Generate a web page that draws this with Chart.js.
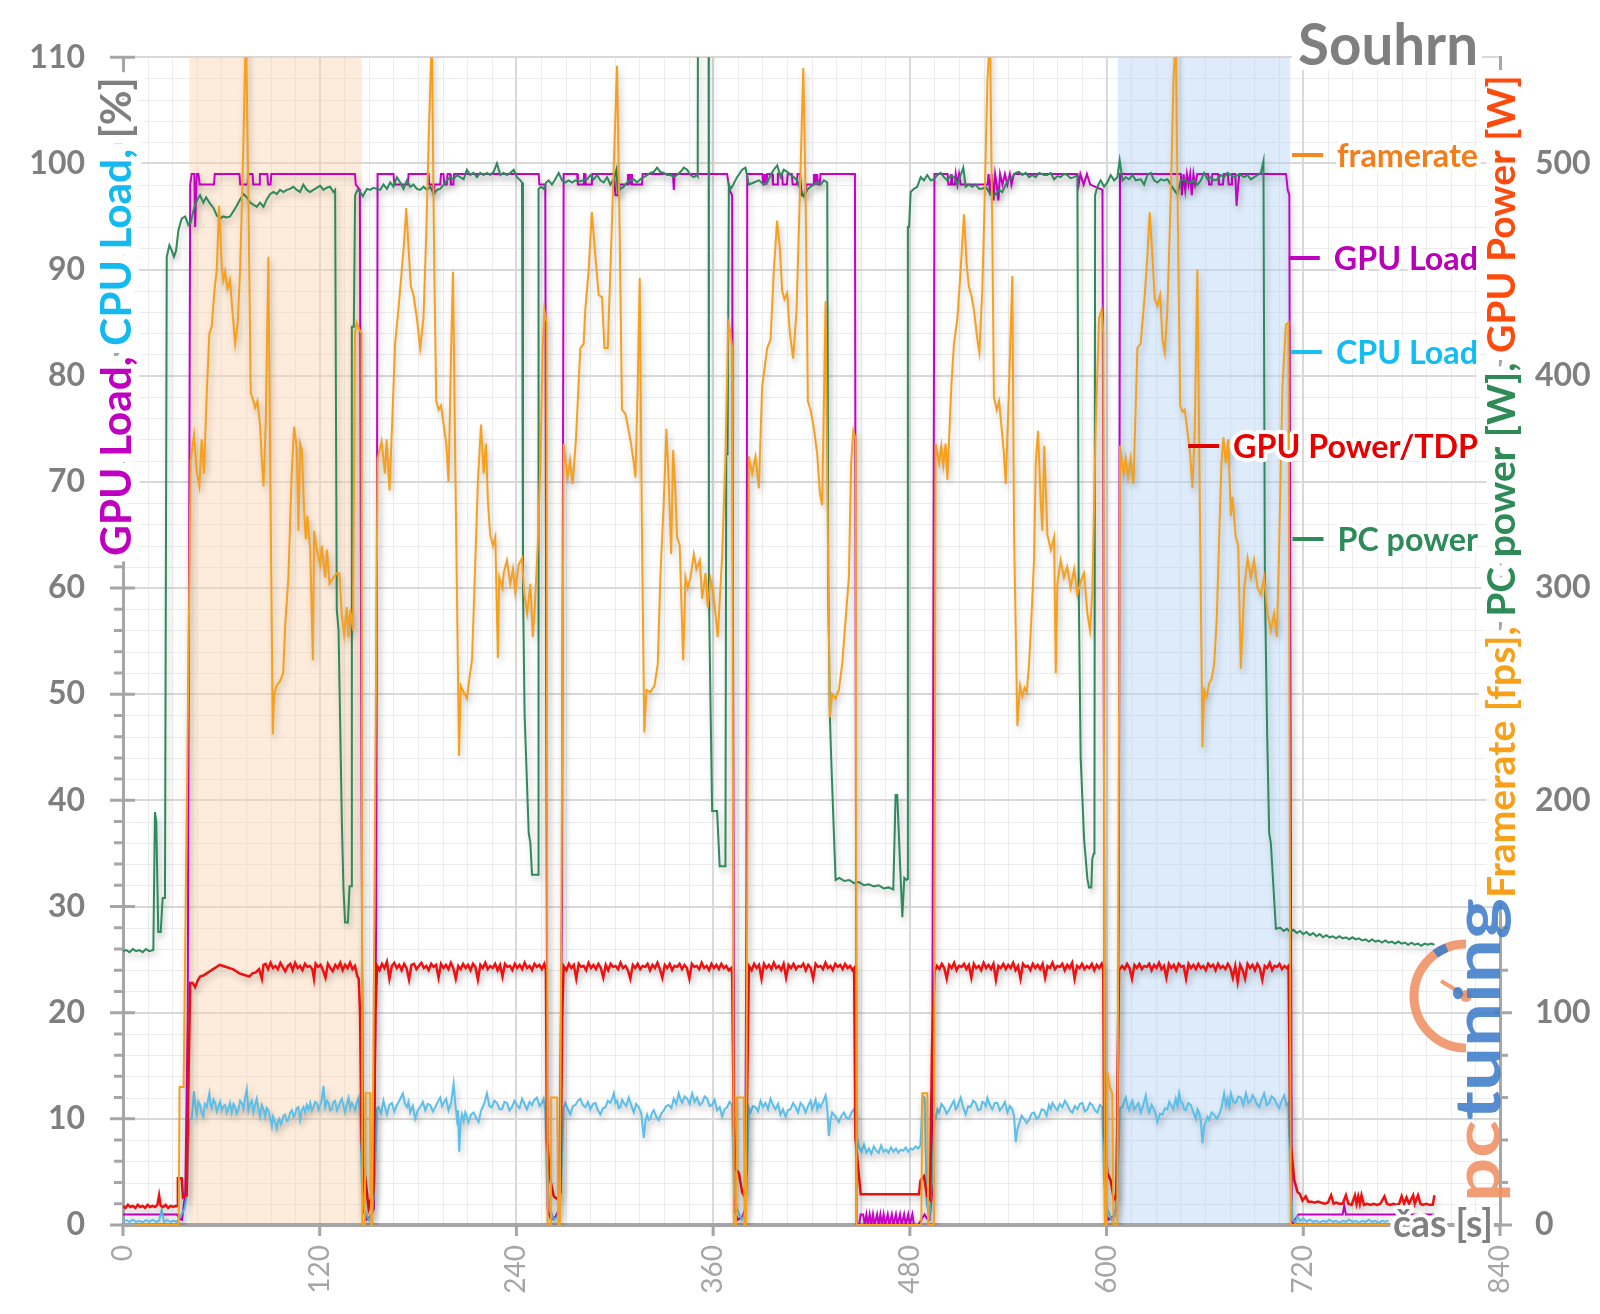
<!DOCTYPE html>
<html><head><meta charset="utf-8">
<script src="https://cdn.jsdelivr.net/npm/chart.js@4.4.1/dist/chart.umd.min.js"></script>
<style>html,body{margin:0;padding:0;background:#fff;}#wrap{width:1600px;height:1314px;}canvas{display:block;}</style>
</head><body><div id="wrap"><canvas id="c" width="1600" height="1314"></canvas></div>
<script>
// ---------------- DATA (time [s], value) ----------------
const xTickValues = [0,120,240,360,480,600,720,840];
const highlightRanges = [[40.5,145.7],[607,712]];
const legendLabels = ['framerate','GPU Load','CPU Load','GPU Power/TDP','PC power'];

// framerate [fps] (right axis)
const framerate = [
[0,0],[34,0],[34.5,65],[37,65],[41.3,360],[43.3,372],[45,355],[46.6,348],[48,370],[49.4,354],[51,390],[52.7,420],[54.1,423],[55.8,440],[57.2,450],[58.6,480],[60.2,452],[61.2,445],[62.3,449],[63.7,441],[65.3,445],[66.8,430],[68.4,415],[70,425],[71.4,449],[72.5,480],[73.5,512],[75,565],[76.5,485],[77.9,392],[79.6,388],[80.6,385],[82,388],[83.6,377],[84.7,360],[85.7,348],[87.1,378],[88.7,456],[90.1,332],[91.4,231],[92.2,250],[93.7,254],[95.7,256],[97.7,260],[99,283],[100.9,305],[102.9,354],[104.4,376],[106,366],[107,327],[108,368],[109.1,365],[110.5,336],[111.5,323],[112.5,334],[114.2,318],[115.8,266],[116.6,327],[118.2,318],[120.3,311],[121.3,320],[123.3,305],[124.4,318],[126,302],[128.4,305],[130.4,307],[132,307],[133.5,287],[134.9,278],[136.5,291],[137.6,277],[138.6,290],[140.3,280],[141.5,420],[142.5,425],[144,422],[145.5,420],[146,0],[147.5,0],[148,62],[150.8,62],[151.5,0],[152,0],[155.3,361],
[157.7,369],[159.8,354],[160.8,370],[162.6,346],[164,374],[166,415],[168,431],[170,449],[171.5,463],[172.8,479],[174.2,460],[175.6,442],[177.2,438],[179.3,427],[181.3,413],[183.3,427],[185,467],[186.6,515],[188.4,560],[189.9,449],[191.1,388],[192.5,384],[194,386],[195.6,377],[197.2,368],[198.6,350],[200.2,413],[201.3,449],[202.7,359],[205,221],[206,254],[207.8,251],[209.8,248],[211.2,257],[212.9,266],[214.3,298],[216.5,350],[218.4,377],[220,354],[221.4,368],[222.6,341],[224,325],[225.7,320],[227.1,324],[228.7,267],[229.5,305],[231.5,300],[232.2,307],[234.2,313],[236.3,302],[237.9,309],[239.3,298],[241.4,311],[243.4,314],[244.8,297],[246.5,288],[248.5,302],[250,277],[251.2,291],[253,320],[254.6,359],[256,413],[257,431],[258.4,425],[259,0],[260.5,0],[261,60],[264.8,60],[265.5,0],[266.5,0],[268.8,368],
[271.2,352],[272.7,360],[274.3,349],[276.3,370],[279,413],[281,415],[282,431],[284,449],[286,477],[288.2,456],[290.2,438],[292.2,437],[293.7,413],[295.7,413],[297.3,449],[299.3,497],[301.4,546],[303,467],[304.4,384],[306.5,382],[308.5,374],[309.9,368],[311.6,359],[312.6,352],[314,395],[315.2,446],[316.6,324],[318,232],[319.3,252],[321.7,251],[324.2,254],[326.2,264],[327.8,305],[329.9,341],[331.5,375],[332.9,350],[334.4,316],[335.6,365],[337,345],[338,324],[339.6,320],[341.7,266],[343.1,305],[344.5,300],[346.2,305],[348.2,316],[349.8,309],[351.9,313],[353.3,295],[355.3,307],[356.7,291],[358.4,304],[360,298],[361.4,288],[362.8,277],[365.5,315],[367.5,361],[369.2,425],[370.6,420],[371.6,413],[372.6,0],[374,0],[374.6,60],[378.7,60],[379.2,0],[380,0],[381.8,362],
[383.8,354],[385.8,362],[387.9,347],[389.9,395],[393,413],[395,417],[397,449],[399,473],[400.7,460],[402.1,440],[403.5,436],[405.2,439],[406.8,420],[408.8,408],[410.9,431],[412.9,485],[415,545],[416.4,485],[417.8,388],[419.4,384],[421.5,375],[423.5,363],[425.1,345],[426.5,339],[428.6,435],[430,324],[431.2,239],[432.6,250],[434.7,248],[436.7,252],[438.7,264],[440.8,285],[442.8,305],[444.2,359],[445.5,374],[447,370],[447.5,0],[487,0],[487.6,62],[490.6,62],[491.2,0],[494.7,0],[495.7,368],
[497.8,359],[499.2,367],[500.4,358],[501.8,368],[502.9,351],[505.3,395],[506.9,415],[509,427],[510.6,445],[513,476],[514.6,453],[516,442],[517.5,438],[519.1,431],[521.2,417],[522.4,411],[524.2,440],[525.7,485],[527.3,539],[528.9,560],[530.3,467],[531.3,390],[533,384],[534.4,388],[535.8,377],[537.4,363],[538.5,349],[540.5,395],[542.5,447],[543.6,324],[545.6,235],[547.2,254],[548.6,249],[550,253],[551.3,251],[552.7,264],[554.1,285],[555.8,314],[556.8,359],[558.2,374],[559.8,341],[560.8,327],[562,367],[563.9,325],[566,318],[568,324],[569,260],[570,302],[572,313],[574,305],[576,310],[578.1,300],[580.2,309],[582.2,297],[584.2,303],[586.3,307],[588.3,288],[589.9,280],[591.3,298],[593.4,377],[595.4,427],[597,431],[598,420],[598.9,0],[600,0],[600.5,72],[602,65],[603.5,62],[604.2,0],[606.5,0],[608.2,367],
[610.3,354],[611.7,361],[613.1,352],[614.7,361],[616.4,349],[618.8,413],[620.8,415],[623.3,438],[624.9,456],[626.3,477],[628,456],[629.4,436],[631,433],[632.7,438],[634.1,417],[635.5,411],[637.1,431],[639.2,485],[640.8,539],[642.2,560],[643.6,467],[644.9,386],[646.3,383],[647.7,384],[649.3,374],[651,363],[652.4,347],[653.8,375],[655.4,450],[657.1,324],[658.5,225],[659.5,252],[661.1,249],[662.6,255],[664,257],[665.6,264],[667.2,285],[668.7,324],[670.1,359],[671.3,371],[672.7,359],[674.2,370],[675.8,334],[676.8,343],[678.8,324],[680.3,320],[681.9,262],[684,300],[686,314],[688,305],[690,313],[692.1,300],[694.1,297],[696.1,305],[698.2,288],[700.2,280],[702.2,288],[703.9,277],[705.3,320],[707.3,395],[709.4,424],[711,425],[712.4,0],[772,0]
];

// GPU power [W] (right axis)
const gpuPower = [
[0,9],[1.5,8],[3,9.5],[4.5,8.5],[6,9],[7.5,8],[9,9.5],[10.5,8.5],[12,9],[13.5,8],[15,9.5],[16.5,8.5],[18,9],[19.5,8.5],[21,9.5],[22,14],[23,9],[24.5,8.5],[26,9.5],[27.5,8],[29,9],[30.5,8.5],[32,9],[33,9],[33.5,22],[35.8,22],[36.6,13],[38.9,14],[40,70],[41,114],
[42.5,114],[44,112],[45.5,115],[47,117],[49,117.5],[51,118.5],[53,119.5],[55,120.5],[57,121.5],[59,122.5],[61,122],[63,121.5],[65,121],[67,120.5],[69,119.5],[71,118.5],[73,118],[75,117.5],[77,117],[79,118.5],[81,119],[83,120.5],[84.7,116],[85.7,122.5],[87,123],[88.5,120.5],[90,123.5],[91.5,121],[93,122],[94.5,120.5],[96,123.5],[97.5,121.5],[99,119.5],[100.5,122],[102,123],[103.5,120],[105,123.5],[106.5,121],[108,122],[109.5,120],[111,123],[112.5,121.5],[114,122],[115.5,120.5],[116.5,116],[117.5,123],[119,121.5],[120.5,122.5],[122,120],[123.5,116.5],[125,123],[126.5,121],[128,119.5],[129.5,122.5],[131,121],[132.5,123.5],[134,120],[135.5,122.5],[137,121],[138.5,123.5],[140,120.5],[141.5,122],[143,117],[143.8,116],[144.6,100],[145.5,40],[146.3,28.5],[147.7,23],[149.8,8],[151.2,12],[152.8,15.5],[154,100],[155,122],
[156.5,120],[158,123],[159.5,121],[161,124],[162.5,116],[164,122],[165.5,123.5],[167,121],[168.5,122.5],[170,120],[171.5,123],[173,121],[174.5,115.5],[176,122.5],[177.5,123],[179,120.5],[180.5,122],[182,123.5],[183.5,121],[185,122],[186.5,120],[188,123],[189.5,121.5],[191,122.5],[192.5,116.5],[194,123],[195.5,121],[197,122.5],[198.5,120.5],[200,123.5],[201.5,121],[203,116],[204.5,122],[206,120.5],[207.5,123],[209,121],[210.5,122.5],[212,120],[213.5,123],[215,121.5],[216.5,115.5],[218,122.5],[219.5,121],[221,123.5],[222.5,120.5],[224,122],[225.5,121],[227,123],[228.5,120],[230,122.5],[231.5,117],[233,123],[234.5,121.5],[236,122],[237.5,120],[239,123],[240.5,121],[242,122.5],[243.5,120.5],[245,123.5],[246.5,121],[248,122],[249.5,120],[251,123],[252.5,121.5],[254,122.5],[255.5,120.5],[257,123],[258,120],[258.6,40],[260.7,21],[262.8,13.5],[265.2,12],[266.8,15.5],[268,100],[268.8,122],
[270.5,120],[272,123],[273.5,121],[275,122.5],[276.5,116],[278,123],[279.5,121.5],[281,122],[282.5,120],[284,123.5],[285.5,121],[287,122.5],[288.5,120.5],[290,123],[291.5,121],[293,116.5],[294.5,122.5],[296,120],[297.5,123],[299,121.5],[300.5,122],[302,120.5],[303.5,123.5],[305,121],[306.5,122],[308,120],[309.5,116],[311,122.5],[312.5,121],[314,123],[315.5,120.5],[317,122],[318.5,121.5],[320,123],[321.5,120],[323,122.5],[324.5,121],[326,123.5],[327.5,120.5],[329,116.5],[330.5,122.5],[332,121],[333.5,123],[335,120],[336.5,122],[338,121.5],[339.5,123],[341,120.5],[342.5,122.5],[344,121],[345.5,116],[347,123],[348.5,121.5],[350,122],[351.5,120.5],[353,123.5],[354.5,121],[356,122],[357.5,120],[359,123],[360.5,121],[362,122.5],[363.5,120.5],[365,123],[366.5,121],[368,122],[369.5,120],[371,121],[371.6,118],[372.6,46.5],[373.6,26.5],[375.7,24.5],[377.7,15.5],[379.1,13.5],[380.1,24.5],[381.8,122],
[383.5,120],[385,123],[386.5,121],[388,122.5],[389.5,116],[391,123],[392.5,121],[394,122.5],[395.5,120.5],[397,123.5],[398.5,121],[400,122],[401.5,120],[403,123],[404.5,116.5],[406,122.5],[407.5,121],[409,123],[410.5,120.5],[412,122],[413.5,121.5],[415,123],[416.5,120],[418,122.5],[419.5,121],[421,116],[422.5,123],[424,121.5],[425.5,122],[427,120.5],[428.5,123.5],[430,121],[431.5,122],[433,120],[434.5,123],[436,121.5],[437.5,122.5],[439,120.5],[440.5,123],[442,121],[443.5,122],[445,120],[446,121],[446.8,41],[450,14.5],[485.6,14.5],[486.5,21],[488.6,23],[490.5,13.5],[492.3,12],[493.5,83],[495.1,119.5],
[496.5,122],[498,120.5],[499.5,123],[501,121],[502.5,116],[504,122.5],[505.5,121],[507,123.5],[508.5,120],[510,122],[511.5,121.5],[513,123],[514.5,120.5],[516,122.5],[517.5,116.5],[519,123],[520.5,121],[522,122],[523.5,120],[525,123.5],[526.5,121],[528,122.5],[529.5,120.5],[531,123],[532.5,115.5],[534,122],[535.5,121],[537,123],[538.5,120.5],[540,122.5],[541.5,121],[543,123.5],[544.5,120],[546,122],[547.5,116],[549,123],[550.5,121.5],[552,122],[553.5,120],[555,123],[556.5,121],[558,122.5],[559.5,120.5],[561,123],[562.5,116.5],[564,122],[565.5,121],[567,123.5],[568.5,120.5],[570,122],[571.5,121.5],[573,123],[574.5,120],[576,122.5],[577.5,121],[579,123.5],[580.5,116],[582,122],[583.5,121],[585,123],[586.5,120.5],[588,122],[589.5,121],[591,123],[592.5,120],[594,122.5],[595.5,121],[597,123],[598,120],[598.5,43],[600.5,24.5],[602.5,21],[604.5,12],[606,13.5],[607.6,120],
[609.5,122],[611,120.5],[612.5,123],[614,121],[615.5,116],[617,122.5],[618.5,121],[620,123],[621.5,120.5],[623,122],[624.5,121.5],[626,123],[627.5,120],[629,122.5],[630.5,121],[632,123.5],[633.5,120.5],[635,122],[636.5,116.5],[638,123],[639.5,121],[641,122.5],[642.5,120],[644,123],[645.5,121.5],[647,122],[648.5,116],[650,123],[651.5,121],[653,122.5],[654.5,120.5],[656,123],[657.5,121],[659,122],[660.5,120],[662,123],[663.5,121.5],[665,122.5],[666.5,120],[668,123],[669.5,121],[671,122],[672.5,120.5],[674,123],[675.5,121],[677,116.5],[678.5,122],[680,114.5],[681.5,122.5],[683,120],[684.5,116],[686,123],[687.5,121],[689,122.5],[690.5,120],[692,123],[693.5,121],[695,115.5],[696.5,122],[698,121],[699.5,123.5],[701,120],[702.5,122],[704,121.5],[705.5,123],[707,120.5],[708.5,122],[710,121],[711,122],
[712,41],[714.5,21],[716.5,15.5],[718,14.5],[719.5,11.5],[721.5,13.5],[723,11],[725,11],[727,10.5],[729,11],[731,10.5],[733,10],[735,10.5],[737,14],[738.5,10],[740,10.5],[742,10],[744,10],[746,14],[747.5,10],[749.5,9.5],[751.5,14],[752.5,10],[753.5,13.5],[754.5,10],[755.5,14],[757,9.5],[759,10],[761,9.5],[763,10],[765,9.5],[767,10],[769.5,13.5],[771,10],[773,9.5],[775,10],[777,9.5],[778.5,10],[780,13.5],[781.5,10],[783,13],[784.5,10],[787,14],[788,10],[790,14],[791.5,10],[793,9.5],[795,10],[797,9.5],[799,9.5],[800,14]
];

// CPU load [%] (left axis)
const cpuLoad = [
[0,0.3],[2,0.45],[4,0.3],[6,0.5],[8,0.3],[10,0.4],[12,0.25],[14,0.45],[16,0.3],[18,0.5],[20,0.3],[22,0.4],[23.6,1.4],[25,0.3],[27,0.45],[29,0.3],[31,0.4],[33,0.3],[35,0.8],[37.5,1.5],[39,3],[40.5,10],
[41.9,10],[43.3,12.6],[44.2,11.2],[45,10.4],[46,11.6],[47,11.3],[48,10.6],[49,10.2],[50,11.4],[51.1,11.1],[52.7,12.4],[53.4,11.3],[54.1,11],[55.2,11.8],[56.2,11.5],[57.2,10.7],[58.2,11.1],[59.2,11.6],[60.2,10.8],[61.3,11.2],[62.3,11.3],[63.3,10.6],[64.3,11],[65.3,11.5],[66.3,10.6],[67.4,11.4],[68.4,11.1],[69.4,10.5],[70.4,10.8],[71.4,11.7],[72.4,11.5],[73.5,10.9],[74.5,12],[75.5,12.8],[76.5,10.8],[77.5,11.4],[78.6,11.7],[79.6,10.6],[80.6,11.3],[81.6,11.9],[82.6,10.9],[83.6,10.2],[84.7,11.3],[85.7,10.9],[86.7,10.2],[87.7,11],[88.7,10.8],[89.8,10.1],[90.8,9.3],[91.5,10.2],[92.2,9.9],[93,9.6],[93.8,9.1],[94.6,9.8],[95.4,10],[96.2,9.5],[96.9,9.7],[97.9,10.3],[98.9,10.4],[99.9,9.8],[100.9,9.9],[102,10.6],[103,10.8],[104,10.2],[105,10.4],[106,11],[107,11.1],[108.1,9.9],[109.1,10.8],[110.1,11.1],[111.1,10.6],[112.1,11.3],[113.2,10.9],[114.2,11.5],[115.2,10.8],[116.2,11.1],[117.2,11.6],[118.2,11.5],[119.3,10.9],[120.3,11.3],[121.3,11.8],[122.3,13.1],[123.3,11.1],[124.4,11.7],[125.4,11.5],[126.4,10.8],[127.4,10.9],[128.4,11.6],[129.4,11.7],[130.5,10.8],[131.5,11.1],[132.5,11.6],[133.5,11.9],[134.5,11.2],[135.5,10.6],[136.6,11.4],[137.6,12],[138.6,11],[139.6,11.5],[140.6,11.2],[141.6,10.8],[142.7,11.6],[143.7,12],[144.7,10],[145.7,4],[147,1.5],[149.8,0.5],[152,1],[153.5,4],[155,11],
[155.9,11.1],[157.4,10.5],[158.9,11.7],[160,11],[161,10.4],[162.5,11.3],[164,11.5],[165.5,10.7],[167.1,11.3],[168.9,11.8],[170.7,12.4],[172,11.4],[173.2,11.1],[174.2,11.6],[175.2,10.6],[176.8,11.2],[178.3,10],[179.8,10.8],[181.3,11.1],[182.9,11.6],[184.4,10.8],[185.9,11.4],[187.4,11.3],[189,10.7],[190.5,11.1],[192,11.6],[193.5,12],[194.6,11.2],[195.6,11.5],[197.1,11.9],[198.6,10.8],[200.2,11.5],[201.7,13.3],[202.7,11.4],[203.7,10],[204.4,10.8],[205.1,6.9],[205.9,9.6],[206.8,10.4],[207.8,9.8],[208.8,10.6],[209.8,10.2],[210.8,9.7],[212.3,10.4],[213.9,10.6],[215.4,10.1],[216.9,9.7],[218.5,10.8],[220,11.3],[221,11.8],[222,12.4],[223.5,11.2],[225.1,11.1],[226.6,11.7],[228.1,11.5],[229.7,10.9],[231.2,10.9],[232.7,11.6],[234.2,11.5],[235.8,10.8],[237.3,11.1],[238.8,11.7],[240.3,11.3],[241.9,11],[243.4,11.9],[244.9,11.4],[246.4,10.9],[248,11.6],[249.5,11.3],[251,11.8],[252.5,12],[254.1,11.2],[255.6,11.5],[256.6,11.9],[257.6,10.8],[258.6,4],[260.5,1.5],[262.8,0.5],[265,0.8],[267,3],[268.8,11],
[269.8,11.5],[271.4,10.9],[272.9,10.4],[274.5,11.2],[276,11.3],[277.5,11.7],[279,11.9],[280.6,11.3],[282.1,11.1],[283.6,11.6],[285.1,10.9],[286.7,11.4],[288.2,11.5],[289.7,10.8],[291.2,10.4],[292.8,11],[294.3,11.1],[295.8,11.7],[297.3,11.5],[298.4,11.9],[299.4,12.4],[300.4,11.5],[301.4,11.7],[302.4,11],[303.4,11.1],[304.5,11.8],[305.5,11.5],[307,11.2],[308.5,12],[310,11.3],[311.6,10.6],[313.1,11.4],[314.6,11.1],[316.2,10.5],[317.7,8.2],[318.7,9.8],[319.7,10.4],[320.7,9.9],[321.7,10],[322.8,10.6],[323.8,10.8],[325.3,10.2],[326.8,9.9],[328.4,10.5],[329.9,10.8],[331.4,11.2],[332.9,11.3],[334.5,11],[336,11.9],[337.5,11.4],[339,12.4],[340.1,11.8],[341.1,11.5],[342.6,12.1],[344.1,11.9],[345.7,11.4],[347.2,12.4],[348.7,11.6],[350.2,12],[351.8,11.3],[353.3,11.5],[354.8,12.1],[356.3,11.9],[357.9,11.2],[359.4,11.3],[360.9,11.8],[362.4,10.8],[364,11.1],[365.5,10.2],[367,10.9],[368.5,11.1],[370,11.6],[371.6,11.3],[372.6,4],[374.5,1.5],[377.5,0.5],[379.5,1],[380.5,4],[381.8,11],
[382.8,10.6],[384.3,11.2],[385.8,11.1],[387.4,10.7],[388.9,11.7],[390.4,11.1],[391.9,11.5],[393.5,10.9],[395,11.9],[396.5,11.3],[398,10.9],[399.6,11.4],[401.1,10.4],[402.6,10.9],[404.2,10.2],[405.7,10.8],[407.2,10.9],[408.8,11.5],[410.3,11.1],[411.8,10.6],[413.3,11.5],[414.9,11.2],[416.4,10.6],[417.9,11.2],[419.4,11.7],[420.4,10.9],[421.4,11.3],[422.5,11.8],[423.5,10.9],[424.5,11.4],[425.5,11.1],[427,11.6],[428.6,12.2],[429.6,11],[430.6,8.4],[431.6,9.9],[432.6,10.6],[433.7,10.4],[435.2,10.1],[436.7,9.7],[438.3,10.3],[439.8,10.6],[441.3,10.1],[442.8,10],[444.4,10.6],[445.9,10.9],[447,10],[447.9,8.2],[449,7.3],[450.5,6.9],
[452,7.6],[453.5,6.8],[455,7.2],[456.5,6.7],[458,7.4],[459.5,7],[461,6.8],[462.5,7.5],[464,6.9],[465.5,7.1],[467,6.8],[468.5,7.3],[470,6.9],[471.5,7.2],[473,6.8],[474.5,7.1],[476,7],[477.5,7.3],[479,6.9],[480.5,7.2],[482,7.1],[483.5,7.4],[485,7.2],[486.5,7.5],[487.8,12.2],[489,12],[490.3,2],[492,0.8],[493.5,4],[495,10],
[495.7,10],[496.8,10.9],[497.8,10.6],[499.3,11.4],[500.8,11.1],[502.4,10.5],[503.9,10.8],[505.4,11.3],[506.9,11.7],[508,10.9],[509,11.1],[510,11.6],[511,12],[512.5,11.1],[514,10.4],[515.6,11.2],[517.1,11.1],[518.6,11.7],[520.1,11.5],[521.7,10.8],[523.2,10.9],[524.2,11.6],[525.2,11.5],[526.3,11.2],[527.3,12],[528.8,11.3],[530.3,10.9],[531.9,11.5],[533.4,11.5],[534.9,10.8],[536.4,11.1],[538,11.6],[539.5,10.6],[541,11.2],[542.5,10.9],[543.6,10.2],[544.6,7.8],[545.6,9],[546.6,9.5],[548.2,10.3],[549.7,10],[551.2,9.6],[552.7,9.9],[554.3,10.5],[555.8,10.6],[557.3,10],[558.8,10.2],[560.4,10.9],[561.9,10.8],[563.4,10.3],[564.9,11.3],[566,10.9],[567,11.5],[568.5,11.1],[570,10.8],[571.5,11.4],[573,11.1],[574.6,11.7],[576.1,11.3],[577.6,10.8],[579.1,10.6],[580.7,11.2],[582.2,10.9],[583.7,11.4],[585.2,11.5],[586.8,10.7],[588.3,10.9],[589.8,11.5],[591.3,11.3],[592.9,10.8],[594.4,10.6],[595.9,11.3],[597.4,11.1],[598.5,4],[600.5,1.5],[603,0.5],[605,0.8],[606.5,3],[608.2,11],
[609.7,11.1],[610.7,11.6],[611.7,12],[612.7,11.2],[613.7,10.8],[614.8,11.4],[615.8,11.7],[616.8,10.9],[617.8,11.1],[619.4,11.5],[620.9,10.6],[622.4,11.3],[623.9,12.2],[625,11.1],[626,10.6],[627.5,11.3],[629,10.9],[630,10.4],[631,9.7],[632.6,10.5],[634.1,10.4],[635.6,11],[637.1,10.9],[638.2,11.6],[639.2,11.3],[640.7,10.9],[642.2,11.9],[643.3,11.2],[644.3,12.4],[645.3,11.6],[646.3,11.5],[647.3,10.9],[648.3,10.8],[649.9,11.5],[651.4,11.3],[652.9,10.6],[654.4,10],[655.5,10.9],[656.5,10.6],[657.5,9.8],[658.5,7.7],[659.5,9.3],[660.5,9.7],[661.6,10.2],[662.6,9.9],[664.1,10.6],[665.6,10.4],[667.2,10],[668.7,10.4],[670.2,11.1],[671.7,12.4],[672.8,11.3],[673.8,11.9],[674.8,11.2],[675.8,12.4],[677.3,11.6],[678.8,11.5],[680.4,12.1],[681.9,12],[683.4,11.3],[685,12.4],[686.5,11.5],[688,11.7],[689,12.2],[690,12],[691.6,11.4],[693.1,11.1],[694.6,11.8],[696.1,12.4],[697.7,11.3],[699.2,11.5],[700.7,12.1],[702.2,11.9],[703.8,11.4],[705.3,11],[706.8,11.7],[708.4,12.2],[709.6,11.3],[710.8,11.5],
[712,5],[713.5,0.5],[715,0.2],[716.5,0.8],[718,0.4],[720,0.6],[722,0.3],[724,0.5],[726,0.3],[728,0.4],[730,0.2],[732,0.4],[734,0.3],[736,0.5],[738,0.3],[740,0.4],[742,0.2],[744,0.4],[746,0.3],[748,0.5],[750,0.3],[752,0.4],[754,0.2],[756,0.4],[758,0.3],[760,0.5],[762,0.3],[764,0.4],[766,0.2],[768,0.4],[770,0.3],[772,0.4]
];

// GPU load [%] (left axis)
const gpuLoad = [
[0,1],[33,1],[34.5,0.6],[36,0.5],[38,3],[39.5,20],[41,98],[41.9,99],[43.5,99],[44,94],[45,99],[46,99],[46.8,98],[55.5,98],[56,99],[71,99],[71.5,98],[76,98],[76.5,99],[79,99],[79.5,98],[83,98],[83.5,99],[88,99],[88.5,98],[90,98],[90.5,99],[141.5,99],[142,98],[144.5,97.5],[145.5,40],[146.5,1.5],[148.5,0.5],[151,0.8],[153,1.5],[154.5,30],[155.3,99],
[165,99],[165.5,98],[173.8,98],[174.2,99],[186.4,99],[186.8,98],[189,98],[189.5,97],[190,98],[193.5,98],[194,99],[195.5,99],[196,98],[197.5,98],[198,99],[199.5,99],[200,98],[201.5,98],[202,99],[253.6,99],[254,98],[257.6,98],[258.2,50],[259,1.5],[261,0.5],[264,0.8],[266,1.5],[267.8,30],[268.8,99],
[277,99],[277.5,98],[281,98],[281.2,99],[282,99],[282.2,98],[286,98],[286.3,99],[299.4,99],[300.4,97],[302.4,97],[303,98],[307.5,98],[308,99],[308.5,98],[309,99],[309.5,98],[310,99],[310.5,98],[316.6,98],[317,99],[335.5,99],[336,97.5],[336.5,99],[368.5,99],[370,97.5],[371.6,97],[372.2,50],[373,1.5],[375,0.5],[378,0.8],[379.5,1.5],[380.3,30],[380.8,99],
[390,99],[390.5,98],[391,99],[391.5,98],[392,99],[392.5,98],[393,99],[396,99],[396.5,98],[399,98],[399.5,99],[402,99],[402.5,98],[405,98],[405.5,99],[408,99],[408.5,98],[411,98],[411.5,99],[413,99],[414,97],[416,97],[417,98],[421,98],[421.5,99],[421.8,98],[422.5,99],[423,98],[423.5,99],[424,98],[425,98],[425.5,99],[446.5,99],[447,50],[447.5,0],
[449,0],[450,1],[451.5,1],[452.5,0],[453.5,1],[454.5,0],[455.5,1],[456.5,0],[457.5,1],[458.5,0],[460,1],[461,0],[462,1],[463,0],[464,1],[465,0],[466.5,1],[467.5,0],[469,1],[470,0],[471.5,1],[472.5,0],[474,1],[475,0],[476.5,1],[477.5,0],[479,1],[480,0],[481.5,1],[482.5,0],[485,0],[487,0.5],[489,1],[490.5,0.6],[492,0.5],[493.5,3],[495,99],
[503,99],[503.5,98],[505,98],[505.5,99],[506,98],[507.5,98],[508,99],[509,98],[510,99],[511,98],[527.5,98],[528,99],[529,97],[530,99],[531,96.5],[532,99],[533,98],[534,96.5],[535,99],[536.5,98],[538,99],[539.5,98],[541,99],[542,98],[543.5,99],[582.2,99],[583,98],[584,99],[586,98],[588,99],[590,98],[597.5,97.5],[598.3,50],[599,1.5],[601,0.5],[604,0.8],[606,1.5],[607.5,30],[608.2,99],
[645.3,99],[646,97],[647,99],[648,97.5],[649,99],[650,98],[651,99],[652,97],[653,99],[654,98],[655.4,99],[662,99],[662.5,98],[664,98],[664.5,99],[668,99],[668.5,98],[671,98],[671.5,99],[674,99],[674.5,98],[676,98],[676.5,99],[678.5,99],[679.3,96],[680.3,98],[681,99],[709.5,99],[710.5,97.5],[711.5,97],[712.2,50],[713,0],[715,0.5],[717,1],[744,1],[745,1.8],[746,1],[800,1]
];

// PC power [W] (right axis)
const pcPower = [
[0,129],[2,129.5],[4,128.5],[6,130],[8,129],[10,129.5],[12,128.5],[14,130],[16,129],[18.5,129.5],[19.5,194.5],[20.3,190],[21.5,138],[23,138],[24.2,154],[25.6,154],[26.7,456],[28.3,461.5],[29.7,459],[31.1,456],[32.4,459],[33.8,468.5],[35.8,474],[37.9,475],[39.9,471],[41.3,472],[42.9,477.5],[44.2,481],[45.4,483],[47,485],[49,481.5],[50.7,484],[52.7,481.5],[55.2,479],[57.2,475.5],[59.2,474],[61.2,475],[63.3,474.5],[65.3,475],[67.4,477.5],[69.4,480],[71.4,483],[73.5,485.5],[75.5,484],[77.5,481.5],[79.6,480.5],[81.6,479.5],[83.6,481.5],[85.7,479.5],[87.7,483],[89.7,485.5],[91.8,486.5],[93.8,485.5],[95.8,487.5],[97.9,486.5],[99.9,487.5],[101.9,488],[103.9,489],[106,487.5],[108,486.5],[110,490],[112.1,487.5],[114.1,486.5],[116.1,487.5],[118.2,488.5],[120.2,489.5],[122.3,487.5],[124.3,488.5],[126.3,489],[128.4,486.5],[129.4,487.5],[130.4,290],[131.5,280],[133.5,190],[134.5,158],[135.5,142.5],[137.2,142.5],[138.2,159.5],[139.2,159.5],[139.6,423],[140.8,423],[141.6,485],
[143.1,487.5],[144.7,486.5],[146.3,484.5],[148.8,488],[150.8,487.5],[152.8,488.5],[154.9,488],[156.9,487.5],[158.9,490],[161,488],[163,491],[165,489],[167.1,493.5],[169.1,491],[171.1,488],[173.2,492],[175.2,489],[177.2,490],[179.3,488],[181.3,487.5],[183.3,489],[185.4,487.5],[187.4,489],[189.5,485.5],[191.5,487.5],[193.5,488],[195.6,490],[197.6,492],[199.6,493.5],[201.7,492.5],[203.7,494.5],[205.7,493.5],[207.8,492.5],[209.8,497],[211.8,494.5],[213.9,495.5],[215.9,493.5],[217.9,495.5],[220,494.5],[222,495.5],[224,494.5],[226.1,496],[228.1,500],[230.2,494.5],[232.2,495.5],[234.2,494.5],[236.3,495.5],[238.3,497],[240.3,493.5],[242.4,492],[243.4,491],[244,300],[245,240],[247.5,184.5],[248.5,180],[249.5,165],[252.5,165],[253.2,165],[253.5,488],
[255,489],[256.6,488],[258.2,491],[259.7,492],[261.7,490],[263.7,492.5],[265.8,495.5],[267.8,492],[269.8,491],[271.9,492],[273.9,491],[275.9,492],[278,491.5],[281,492],[283.1,492.5],[285.1,494.5],[287.1,492.5],[289.2,494.5],[291.2,492],[293.2,491],[295.3,493.5],[297.3,490],[299.4,492.5],[301,497],[301.8,486.5],[303.4,488],[305.5,489],[307.5,491],[309.5,492],[311.6,492.5],[313.6,491],[315.6,492.5],[317.7,493.5],[319.7,494.5],[321.7,495.5],[323.8,496],[325.8,498],[327.8,496],[329.9,495.5],[331.9,494.5],[334,494.5],[336,493.5],[338,494.5],[340.1,496],[342.1,498],[344.1,497],[346.2,494.5],[348.2,493.5],[350.2,494.5],[350.6,494],[350.8,620],[357.2,620],[357.4,300],[358.4,245],[359.4,195],[362.4,195],[364,169],[367,169],[367.5,169],[368,363],[368.8,363],[369.6,490],
[370.6,488],[371.6,489],[374.6,493.5],[377.7,497],[379.7,498],[381.8,490],[384.8,491],[387.9,492],[390.9,490],[393,491],[395,494.5],[397,497],[399.1,499],[401.1,493.5],[403.1,497],[405.2,496],[407.2,494.5],[409.2,493.5],[411.3,492],[413.3,487.5],[415.3,484.5],[417.4,487.5],[419.4,489],[421.5,490],[423.5,491],[425.5,490],[427.6,492],[429.6,491],[430.2,300],[431.2,240],[432,220],[434.7,162.5],[437,163.5],[440,162],[443,162.5],[446,161],[449,161.5],[452,160],[455,160.5],[458,159.5],[461,160],[464,158.5],[467,159],[469.9,158],[471.3,202.5],[472.3,202.5],[474,170.5],[475.4,145],[476.6,163.5],[478,162.5],[478.4,163],[478.8,470],[479.5,470],[480.5,486.5],
[482.5,488],[484.5,489],[486.6,493.5],[488.6,492],[490.6,494.5],[492.7,492],[494.7,492.5],[496.7,494.5],[498.8,495.5],[500.8,493.5],[502.9,492],[504.9,494.5],[506.9,493.5],[509,490],[511,494.5],[512.6,498],[514,489],[516.1,490],[518.1,489],[520.1,490],[522.2,488],[524.2,488],[526.2,489],[528.3,486.5],[530.3,484.5],[532.4,485.5],[534.4,487.5],[536.4,486.5],[538.5,490],[540.5,492.5],[542.5,493.5],[544.6,495.5],[546.6,496],[548.6,494.5],[550.7,495.5],[552.7,493.5],[554.7,494.5],[556.8,493.5],[558.8,495.5],[561.9,494.5],[563.9,494.5],[565.9,495.5],[568,492.5],[570,494],[572,493.5],[574,495],[576.1,494.5],[578,493],[580.2,493.5],[582.2,494.5],[583,300],[584.2,220],[586.3,181.5],[588.3,163],[589.3,159],[590.7,159],[591.3,172.5],[592.2,175],[592.6,175],[593,485],
[594.4,489],[596.4,492],[598.5,489],[600.5,491],[602.5,494.5],[604.6,492],[606.6,493.5],[608,501.5],[609.7,492],[611.7,493.5],[613.7,492.5],[615.8,494.5],[617.8,492],[620.9,492.5],[622.9,490],[624.9,494.5],[627,495.5],[629,492],[631,491],[633.1,492.5],[635.1,492],[637.1,492.5],[639.2,490],[641.2,487.5],[643.2,485.5],[645.3,492],[647.3,492.5],[649.3,491],[651.4,491],[653.4,492],[655.4,490],[657.5,492],[659.5,495.5],[661.6,492.5],[663.6,493.5],[665.6,492],[667.7,492.5],[669.7,494.5],[671.7,493.5],[673.8,495.5],[675.8,494.5],[677.8,493.5],[679.9,494.5],[681.9,494.5],[683.9,493.5],[686,494.5],[688,492.5],[690,493.5],[692.1,494.5],[694.1,495.5],[695.7,501],[696.6,300],[698,230],[699.2,184.5],[700.2,180],[703.3,139.5],
[706,140],[708,138.5],[710,139.5],[712,138],[714,139],[716,137.5],[718,138.5],[720,137],[722,138],[724,136.5],[726,137.5],[728,136],[730,137],[732,135.5],[734,136.5],[736,135.5],[738,136],[740,135],[742,136],[744,135],[746,135.5],[748,134.5],[750,135.5],[752,134.5],[754,135],[756,134],[758,134.5],[760,133.5],[762,134.5],[764,133.5],[766,134],[768,133],[770,134],[772,133],[774,133.5],[776,132.5],[778,133.5],[780,132.5],[782,133],[784,132],[786,133],[788,132],[790,132.5],[792,131.5],[794,132.5],[796,132],[798,132.5],[800,132]
];

// ---------------- RENDERING ----------------
const FONT = 'Lato, "Open Sans", "DejaVu Sans", sans-serif';
const toXY = a => a.map(p => ({x: p[0], y: p[1]}));

function fitSize(ctx, text, weight, target) {
  ctx.font = weight + ' 100px ' + FONT;
  return 100 * target / ctx.measureText(text).width;
}
// draws text rotated -90deg (reading bottom->top), from startY up to endY
function rotatedText(ctx, pieces, baseX, startY, endY, weight, halo, fixedSize) {
  const full = pieces.map(p => p[0]).join('');
  const len = startY - endY;
  const fs = fixedSize || fitSize(ctx, full, weight, len);
  ctx.save();
  ctx.font = weight + ' ' + fs + 'px ' + FONT;
  let sx = 1;
  if (fixedSize) sx = len / ctx.measureText(full).width;
  ctx.translate(baseX(fs), startY);
  ctx.rotate(-Math.PI / 2);
  ctx.scale(sx, 1);
  ctx.textAlign = 'left'; ctx.textBaseline = 'alphabetic';
  const ws = pieces.map(p => ctx.measureText(p[0]).width);
  if (halo) {
    ctx.lineJoin = 'round'; ctx.strokeStyle = '#fff'; ctx.lineWidth = halo;
    let x = 0; pieces.forEach((p, i) => { ctx.strokeText(p[0], x, 0); x += ws[i]; });
  }
  let x = 0; pieces.forEach((p, i) => { ctx.fillStyle = p[1]; ctx.fillText(p[0], x, 0); x += ws[i]; });
  ctx.restore();
  return fs;
}

const decor = {
  id: 'decor',
  beforeDraw(chart) {
    const {ctx, chartArea: a, scales: {x, y}} = chart;
    ctx.save();
    ctx.fillStyle = '#fff'; ctx.fillRect(0, 0, chart.width, chart.height);
    ctx.lineWidth = 1; ctx.strokeStyle = '#ececec';
    ctx.beginPath();
    for (let t = 0; t <= 840; t += 15) { if (t % 120 === 0) continue; const px = Math.round(x.getPixelForValue(t)) + 0.5; ctx.moveTo(px, a.top); ctx.lineTo(px, a.bottom); }
    for (let v = 0; v <= 110; v += 2) { if (v % 10 === 0) continue; const py = Math.round(y.getPixelForValue(v)) + 0.5; ctx.moveTo(a.left, py); ctx.lineTo(a.right, py); }
    ctx.stroke();
    ctx.lineWidth = 2; ctx.strokeStyle = '#d9d9d9';
    ctx.beginPath();
    for (let t = 120; t < 840; t += 120) { const px = Math.round(x.getPixelForValue(t)); ctx.moveTo(px, a.top); ctx.lineTo(px, a.bottom); }
    for (let v = 10; v <= 110; v += 10) { const py = Math.round(y.getPixelForValue(v)); ctx.moveTo(a.left, py); ctx.lineTo(a.right, py); }
    ctx.stroke();
    const fills = ['rgba(251,213,175,0.45)', 'rgba(180,210,245,0.45)'];
    highlightRanges.forEach((r, i) => {
      const x0 = x.getPixelForValue(r[0]), x1 = x.getPixelForValue(r[1]);
      ctx.fillStyle = fills[i]; ctx.fillRect(x0, a.top, x1 - x0, a.bottom - a.top);
    });
    ctx.restore();
  },
  beforeDatasetDraw(chart) {
    const c = chart.ctx; c.save();
    c.shadowColor = 'rgba(0,0,0,0.25)'; c.shadowBlur = 6; c.shadowOffsetX = 2; c.shadowOffsetY = 4;
  },
  afterDatasetDraw(chart) { chart.ctx.restore(); },
  afterDraw(chart) {
    const {ctx, chartArea: a, scales: {x, y, y1}} = chart;
    ctx.save();
    // tick marks
    ctx.strokeStyle = '#a6a6a6'; ctx.lineWidth = 3; ctx.beginPath();
    for (let v = 0; v <= 110; v += 2) {
      const py = y.getPixelForValue(v);
      if (v % 10 === 0) { ctx.moveTo(a.left - 13, py); ctx.lineTo(a.left + 12, py); }
      else { ctx.moveTo(a.left - 9, py); ctx.lineTo(a.left, py); }
    }
    for (let w = 0; w <= 540; w += 20) {
      const py = y1.getPixelForValue(w);
      if (w % 100 === 0) { ctx.moveTo(a.right - 6, py); ctx.lineTo(a.right + 12, py); }
      else { ctx.moveTo(a.right, py); ctx.lineTo(a.right + 8, py); }
    }
    for (const t of xTickValues) { const px = x.getPixelForValue(t); ctx.moveTo(px, a.bottom); ctx.lineTo(px, a.bottom + 11); }
    ctx.stroke();

    // Title "Souhrn"
    let fs = fitSize(ctx, 'Souhrn', 'bold', 180);
    ctx.font = 'bold ' + fs + 'px ' + FONT;
    ctx.fillStyle = '#fff'; ctx.fillRect(1292, 18, 190, 52);
    ctx.fillStyle = '#7f7f7f'; ctx.textAlign = 'right'; ctx.textBaseline = 'alphabetic';
    ctx.fillText('Souhrn', 1478, 65);

    // Left axis title
    rotatedText(ctx, [['GPU Load, ', '#c000c0'], ['CPU Load, ', '#14b9ef'], ['[%]', '#7f7f7f']],
      f => 100 + 0.72 * f, 556, 77, 'bold', 17);
    // Right axis title
    rotatedText(ctx, [['Framerate [fps], ', '#f7a11a'], ['PC power [W], ', '#2e8b57'], ['GPU Power [W]', '#ff4a0e']],
      f => 1487 + 0.72 * f, 898, 75, 'bold', 17);

    // Legend
    const legendTextColors = ['#f27e1e', '#b800b8', '#14bdf0', '#e60000', '#2e8b57'];
    const legendLineColors = ['#f28a22', '#c000c0', '#1cc0f0', '#e00000', '#2e8b57'];
    const legendYs = [155, 258, 352, 446, 539];
    fs = fitSize(ctx, legendLabels[0], 'bold', 141);
    ctx.font = 'bold ' + fs + 'px ' + FONT;
    ctx.textAlign = 'right'; ctx.lineJoin = 'round';
    legendLabels.forEach((lab, i) => {
      const yy = legendYs[i];
      const w = ctx.measureText(lab).width;
      const x0 = 1478 - w;
      ctx.strokeStyle = '#fff'; ctx.lineWidth = 8; ctx.strokeText(lab, 1478, yy + 0.36 * fs);
      ctx.fillStyle = legendTextColors[i]; ctx.fillText(lab, 1478, yy + 0.36 * fs);
      ctx.strokeStyle = legendLineColors[i]; ctx.lineWidth = 4;
      ctx.beginPath(); ctx.moveTo(x0 - 45, yy); ctx.lineTo(x0 - 14, yy); ctx.stroke();
    });

    // x axis title
    fs = fitSize(ctx, 'čas [s]', 'bold', 100);
    ctx.font = 'bold ' + fs + 'px ' + FONT;
    ctx.strokeStyle = '#fff'; ctx.lineWidth = 8;
    ctx.strokeText('čas [s]', 1493, 1237);
    ctx.fillStyle = '#808080'; ctx.fillText('čas [s]', 1493, 1237);

    // pctuning logo
    ctx.globalAlpha = 0.88;
    ctx.strokeStyle = '#ef8f62'; ctx.lineWidth = 9;
    ctx.beginPath(); ctx.arc(1466, 996, 52, -Math.PI / 2, Math.PI / 2, true); ctx.stroke();
    ctx.strokeStyle = '#3d7dca'; ctx.beginPath(); ctx.arc(1466, 996, 52, -2.2, -1.95); ctx.stroke();
    ctx.strokeStyle = '#ef8f62'; ctx.lineWidth = 4;
    ctx.beginPath(); ctx.moveTo(1441, 981); ctx.lineTo(1466, 996); ctx.stroke();
    ctx.fillStyle = '#ef8f62'; ctx.beginPath(); ctx.arc(1466, 996, 6, 0, Math.PI * 2); ctx.fill();
    rotatedText(ctx, [['pc', '#ef8f62'], ['tuning', '#3d7dca']], f => 1500, 1202, 898, 'bold', 0, 64);
    ctx.restore();
  }
};

function build() {
  const ctx = document.getElementById('c').getContext('2d');
  const common = {pointRadius: 0, pointHoverRadius: 0, tension: 0, fill: false};
  new Chart(ctx, {
    type: 'line',
    data: {
      datasets: [
        Object.assign({label: 'framerate', data: toXY(framerate), yAxisID: 'y1', borderColor: '#f7a01c', borderWidth: 2}, common),
        Object.assign({label: 'GPU Power/TDP', data: toXY(gpuPower), yAxisID: 'y1', borderColor: '#ee1111', borderWidth: 2.5}, common),
        Object.assign({label: 'CPU Load', data: toXY(cpuLoad), yAxisID: 'y', borderColor: '#5bbfe9', borderWidth: 2}, common),
        Object.assign({label: 'PC power', data: toXY(pcPower), yAxisID: 'y1', borderColor: '#2e8a5c', borderWidth: 2}, common),
        Object.assign({label: 'GPU Load', data: toXY(gpuLoad), yAxisID: 'y', borderColor: '#c800c8', borderWidth: 2}, common)
      ]
    },
    options: {
      responsive: false, devicePixelRatio: 1, animation: false, events: [],
      layout: {padding: {top: 53, left: 0, right: 0, bottom: 0}},
      plugins: {legend: {display: false}, tooltip: {enabled: false}},
      scales: {
        x: {
          type: 'linear', min: 0, max: 840, position: 'bottom',
          afterFit: s => { s.height = 89; },
          grid: {display: false, drawTicks: false, tickLength: 0},
          border: {display: true, color: '#a6a6a6', width: 4},
          ticks: {stepSize: 120, autoSkip: false, minRotation: 90, maxRotation: 90, padding: 20,
            color: '#a6a6a6', font: {family: FONT, size: 28}}
        },
        y: {
          type: 'linear', min: 0, max: 110, position: 'left',
          afterFit: s => { s.width = 123; },
          grid: {display: false, drawTicks: false, tickLength: 0},
          border: {display: true, color: '#a6a6a6', width: 3},
          ticks: {stepSize: 10, padding: 38, color: '#7f7f7f', font: {family: FONT, size: 32, weight: 'bold'}}
        },
        y1: {
          type: 'linear', min: 0, max: 550, position: 'right',
          afterFit: s => { s.width = 100; },
          grid: {display: false, drawTicks: false, tickLength: 0},
          border: {display: true, color: '#a6a6a6', width: 3},
          ticks: {stepSize: 100, includeBounds: false, padding: 35, color: '#7f7f7f',
            font: {family: FONT, size: 32, weight: 'bold'},
            callback: v => (v % 100 === 0 ? String(v) : '')}
        }
      }
    },
    plugins: [decor]
  });
}
Promise.all([document.fonts.load('bold 30px Lato'), document.fonts.load('30px Lato')])
  .catch(() => {}).finally(build);
</script>
</body></html>
